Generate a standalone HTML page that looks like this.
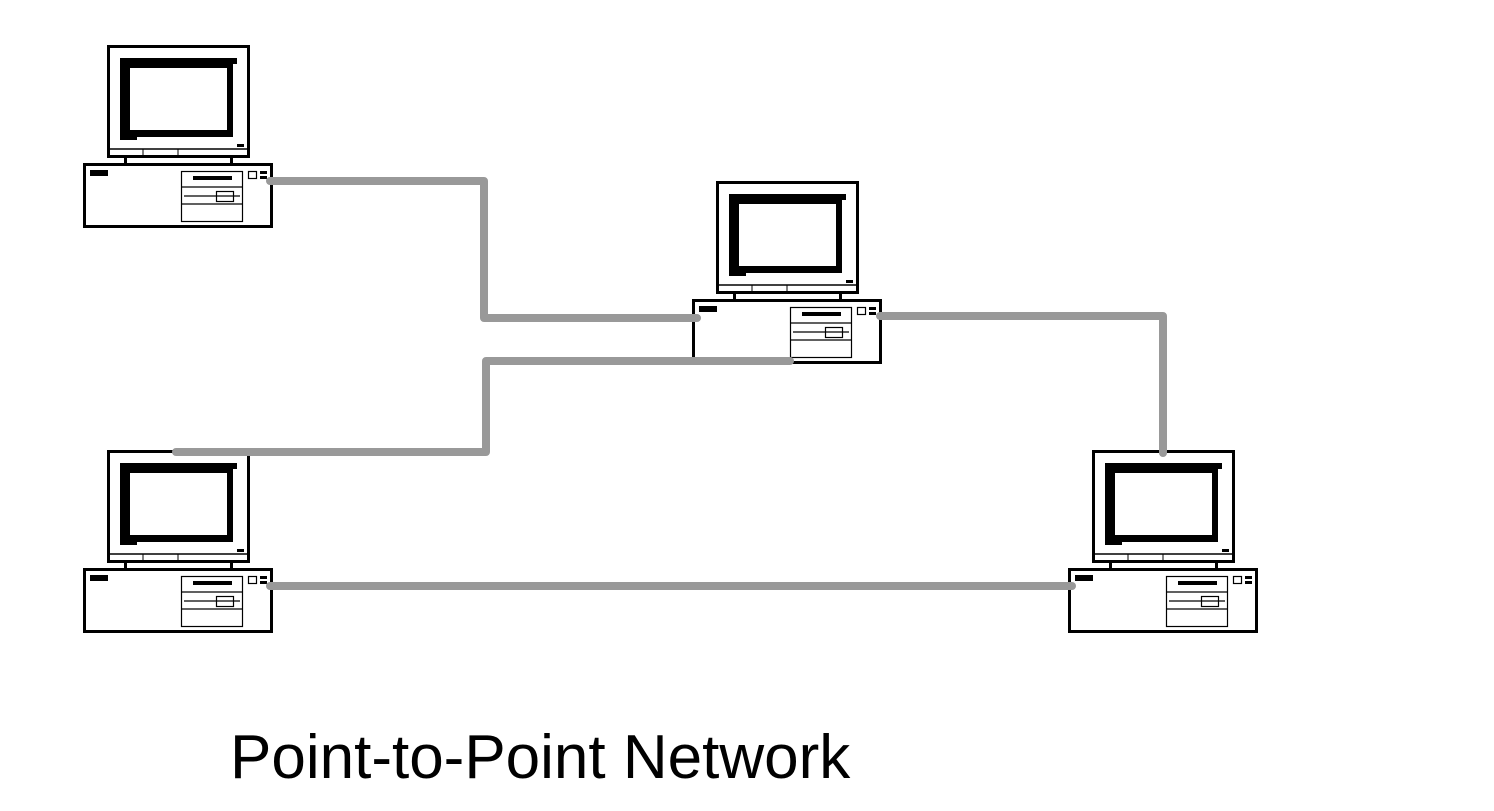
<!DOCTYPE html>
<html><head><style>body{margin:0;background:#fff}svg{display:block}</style></head><body>
<svg width="1494" height="811" viewBox="0 0 1494 811" xmlns="http://www.w3.org/2000/svg">
<defs>
<g id="pc">
  <rect x="108.5" y="46.5" width="140" height="110" fill="#fff" stroke="#000" stroke-width="3"/>
  <path d="M120 58H237V64H233V137H137V140H120Z" fill="#000"/>
  <rect x="130" y="68" width="97" height="62" fill="#fff"/>
  <rect x="237" y="144" width="7" height="3" fill="#000"/>
  <line x1="108" y1="149" x2="249" y2="149" stroke="#000" stroke-width="1.5"/>
  <line x1="143" y1="149" x2="143" y2="155" stroke="#000" stroke-width="1"/>
  <line x1="178" y1="149" x2="178" y2="155" stroke="#000" stroke-width="1"/>
  <rect x="124" y="156" width="3" height="8" fill="#000"/>
  <rect x="230" y="156" width="3" height="8" fill="#000"/>
  <rect x="84.5" y="164.5" width="187" height="62" fill="#fff" stroke="#000" stroke-width="3"/>
  <rect x="90" y="170" width="18" height="6" fill="#000"/>
  <rect x="181.5" y="171.5" width="61" height="50" fill="#fff" stroke="#000" stroke-width="1.2"/>
  <line x1="181" y1="187" x2="243" y2="187" stroke="#000" stroke-width="1.2"/>
  <line x1="181" y1="204" x2="243" y2="204" stroke="#000" stroke-width="1.2"/>
  <rect x="193" y="176" width="39" height="4" fill="#000"/>
  <line x1="184" y1="196" x2="240" y2="196" stroke="#000" stroke-width="1.2"/>
  <rect x="216.5" y="191.5" width="17" height="10" fill="none" stroke="#000" stroke-width="1.2"/>
  <rect x="248.5" y="171.5" width="8" height="7" fill="none" stroke="#000" stroke-width="1.2"/>
  <rect x="260" y="171" width="7" height="3" fill="#000"/>
  <rect x="260" y="176" width="7" height="3" fill="#000"/>
</g>
</defs>
<use href="#pc"/>
<use href="#pc" transform="translate(609,136)"/>
<use href="#pc" transform="translate(0,405)"/>
<use href="#pc" transform="translate(985,405)"/>
<g fill="none" stroke="#999" stroke-width="8" stroke-linecap="round" stroke-linejoin="round">
  <path d="M270 181H484V318H697"/>
  <path d="M880 316H1163V453"/>
  <path d="M790 361H486V452H176"/>
  <path d="M270 586H1072"/>
</g>
<text x="230" y="778" font-family="Liberation Sans, sans-serif" font-size="62" fill="#000">Point-to-Point Network</text>
</svg>
</body></html>
